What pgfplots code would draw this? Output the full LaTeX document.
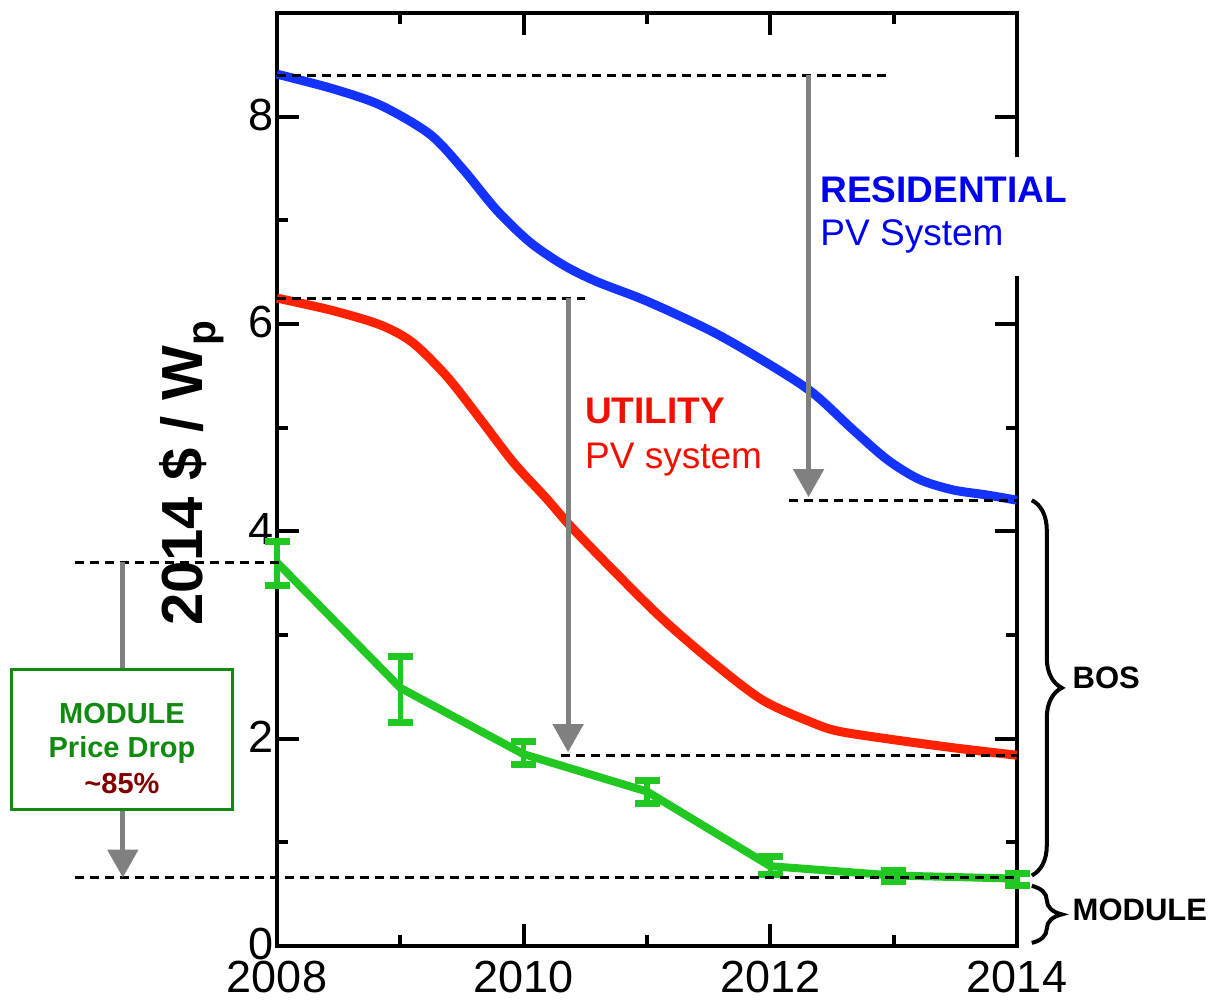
\documentclass[border=0pt]{standalone}
\usepackage{fontspec}
\setmainfont{Liberation Sans}
\usepackage{pgfplots}
\pgfplotsset{compat=1.18}
\usetikzlibrary{arrows.meta,decorations.pathreplacing}
\definecolor{resblue}{HTML}{1433FF}
\definecolor{restext}{HTML}{0000F0}
\definecolor{utilred}{HTML}{FF2200}
\definecolor{utiltext}{HTML}{F01000}
\definecolor{modgreen}{HTML}{22C822}
\definecolor{boxgreen}{HTML}{108A10}
\definecolor{darkred}{HTML}{800000}
\definecolor{arrowgray}{HTML}{808080}

\pgfplotstableread{
x y ep em
2008 3.70 0.20 0.22
2009 2.49 0.30 0.33
2010 1.85 0.12 0.10
2011 1.49 0.11 0.12
2012 0.77 0.09 0.08
2013 0.68 0.05 0.06
2014 0.65 0.05 0.07
}\moduledata

\begin{document}
\begin{tikzpicture}[x=1pt,y=1pt]
\path[use as bounding box] (0,0) rectangle (1212,1003);
\begin{axis}[
  at={(277pt,57pt)}, anchor=south west,
  scale only axis, width=740pt, height=933pt,
  xmin=2008, xmax=2014, ymin=0, ymax=9,
  xtick={2008,2010,2012,2014}, minor xtick={2009,2011,2013},
  ytick={0,2,4,6,8}, minor ytick={1,3,5,7},
  tick align=inside,
  major tick length=22pt, minor tick length=11pt,
  axis line style={line width=4pt, black},
  tick style={line width=4pt, black},
  tick label style={font=\fontsize{45}{45}\selectfont},
  xticklabel style={yshift=-13pt, inner sep=2pt},
  yticklabel style={yshift=2pt},
  /pgf/number format/1000 sep={},
  /pgf/number format/assume math mode=true,
  ylabel={\textbf{2014 \$ / W\textsubscript{p}}},
  ylabel style={font=\fontsize{58}{58}\selectfont, at={(axis description cs:-0.115,0.507)}, anchor=center},
  clip=false,
]
% residential
\addplot[resblue, line width=9pt, smooth] coordinates {
(2008.00,8.41) (2008.45,8.27) (2008.84,8.11) (2009.24,7.83) (2009.51,7.49)
(2009.78,7.10) (2010.05,6.79) (2010.32,6.57) (2010.59,6.41) (2011.00,6.22)
(2011.54,5.92) (2012.02,5.59) (2012.35,5.33) (2012.67,4.98) (2012.95,4.69)
(2013.21,4.50) (2013.48,4.40) (2013.76,4.35) (2014.00,4.30)
};
% utility
\addplot[utilred, line width=9pt, smooth] coordinates {
(2008.00,6.25) (2008.45,6.13) (2008.84,5.99) (2009.10,5.82) (2009.38,5.49)
(2009.65,5.08) (2009.92,4.66) (2010.19,4.31) (2010.38,4.05) (2010.73,3.62)
(2011.13,3.15) (2011.54,2.73) (2011.94,2.37) (2012.35,2.15) (2012.56,2.07)
(2013.00,1.99) (2013.50,1.91) (2014.00,1.84)
};
% module
\addplot[modgreen, line width=8pt, mark=none, line join=round,
  error bars/.cd, y dir=both, y explicit,
  error bar style={line width=5.5pt, modgreen},
  error mark options={rotate=90, mark size=12.5pt, line width=7pt, modgreen}]
  table[x=x, y=y, y error plus=ep, y error minus=em] {\moduledata};

% dashed reference lines
\draw[black, line width=3pt, dash pattern=on 9pt off 6pt] (axis cs:2008,8.4) -- (axis cs:2012.96,8.4);
\draw[black, line width=3pt, dash pattern=on 9pt off 6pt] (axis cs:2008,6.25) -- (axis cs:2010.5,6.25);
\draw[black, line width=3pt, dash pattern=on 9pt off 6pt] (axis cs:2012.15,4.3) -- (axis cs:2014,4.3);
\draw[black, line width=3pt, dash pattern=on 9pt off 6pt] (axis cs:2010.3,1.84) -- (axis cs:2014,1.84);
\draw[black, line width=3pt, dash pattern=on 9pt off 6pt] (axis cs:2006.36,3.7) -- (axis cs:2008.05,3.7);
\draw[black, line width=3pt, dash pattern=on 9pt off 6pt] (axis cs:2006.36,0.66) -- (axis cs:2014,0.66);

% arrows
\draw[arrowgray, line width=5pt, -{Triangle[width=30pt,length=28pt]}] (axis cs:2012.31,8.4) -- (axis cs:2012.31,4.33);
\draw[arrowgray, line width=5pt, -{Triangle[width=30pt,length=28pt]}] (axis cs:2010.36,6.25) -- (axis cs:2010.36,1.87);
\draw[arrowgray, line width=5pt, -{Triangle[width=30pt,length=28pt]}] (axis cs:2006.75,3.7) -- (axis cs:2006.75,0.66);

% module box
\draw[boxgreen, line width=3pt, fill=white] (axis cs:2005.851,2.664) rectangle (axis cs:2007.643,1.313);
\node[anchor=base, inner sep=0pt, text=boxgreen, font=\bfseries\fontsize{29}{29}\selectfont] at (axis cs:2006.743,2.143) {MODULE};
\node[anchor=base, inner sep=0pt, text=boxgreen, font=\bfseries\fontsize{29}{29}\selectfont] at (axis cs:2006.743,1.815) {Price Drop};
\node[anchor=base, inner sep=0pt, text=darkred, font=\bfseries\fontsize{29}{29}\selectfont] at (axis cs:2006.743,1.467) {\textasciitilde85\%};

% braces
\draw[black, line width=4pt, decorate, decoration={brace, amplitude=30pt}] (axis cs:2014.12,4.3) -- (axis cs:2014.12,0.68);
\draw[black, line width=4pt, decorate, decoration={brace, amplitude=30pt}] (axis cs:2014.12,0.58) -- (axis cs:2014.12,0.03);
\node[anchor=west, inner sep=0pt, font=\bfseries\fontsize{31}{31}\selectfont] at (axis cs:2014.45,2.59) {BOS};
\node[anchor=west, inner sep=0pt, font=\bfseries\fontsize{31}{31}\selectfont] at (axis cs:2014.45,0.35) {MODULE};

% utility label
\node[anchor=base west, inner sep=0pt, text=utiltext, font=\bfseries\fontsize{37}{37}\selectfont] at (axis cs:2010.497,5.04) {UTILITY};
\node[anchor=base west, inner sep=0pt, text=utiltext, font=\fontsize{37}{37}\selectfont] at (axis cs:2010.497,4.61) {PV system};

\coordinate (rA) at (axis cs:2012.34,7.61);
\coordinate (rB) at (axis cs:2014.47,6.46);
\coordinate (rT1) at (axis cs:2012.405,7.17);
\coordinate (rT2) at (axis cs:2012.405,6.76);
\end{axis}
\fill[white] (rA) rectangle (rB);
\node[anchor=base west, inner sep=0pt, text=restext, font=\bfseries\fontsize{37}{37}\selectfont] at (rT1) {RESIDENTIAL};
\node[anchor=base west, inner sep=0pt, text=restext, font=\fontsize{37}{37}\selectfont] at (rT2) {PV System};
\end{tikzpicture}
\end{document}
